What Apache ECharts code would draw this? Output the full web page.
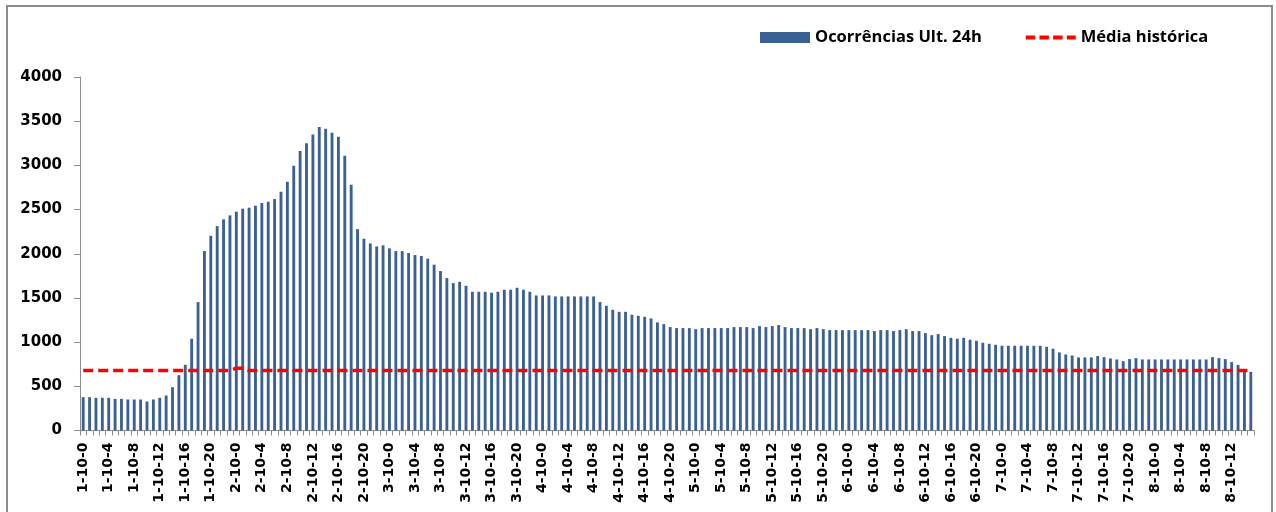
<!DOCTYPE html>
<html>
<head>
<meta charset="utf-8">
<script src="https://cdn.jsdelivr.net/npm/echarts@6/dist/echarts.min.js"></script>
<style>
html,body{margin:0;padding:0;background:#fff;}
#chart{width:1276px;height:512px;}
</style>
</head>
<body>
<div id="chart"></div>
<script>
// Category labels: day-month-hour, hourly from 1-10-0
const days = [1, 2, 3, 4, 5, 6, 7, 8];
const hours = [0,1,2,3,4,5,6,7,8,9,10,11,12,13,14,15,16,17,18,19,20,21,22,23];
const barCount = 184;
const categories = [];
days.forEach(d => hours.forEach(h => categories.push(d + '-10-' + h)));
categories.length = barCount;

const ocorrencias = [
  377, 377, 370, 370, 370, 358, 358, 351, 351, 351, 328, 351, 370, 396, 490, 626, 743, 1038, 1453, 2030, 2204, 2313, 2389, 2434,
  2476, 2510, 2521, 2544, 2574, 2589, 2619, 2702, 2815, 2997, 3163, 3250, 3348, 3434, 3415, 3370, 3325, 3110, 2781, 2279, 2170, 2117, 2083, 2095,
  2061, 2030, 2030, 2008, 1985, 1974, 1944, 1876, 1804, 1725, 1668, 1683, 1638, 1570, 1570, 1570, 1559, 1570, 1593, 1593, 1615, 1593, 1570, 1528,
  1528, 1528, 1517, 1517, 1517, 1517, 1517, 1517, 1517, 1453, 1411, 1366, 1343, 1343, 1310, 1298, 1287, 1268, 1223, 1204, 1170, 1159, 1159, 1159,
  1147, 1159, 1159, 1159, 1159, 1159, 1170, 1170, 1170, 1159, 1181, 1170, 1181, 1193, 1170, 1159, 1159, 1159, 1147, 1159, 1147, 1136, 1136, 1136,
  1136, 1136, 1136, 1136, 1125, 1136, 1136, 1125, 1136, 1147, 1125, 1125, 1102, 1079, 1091, 1068, 1049, 1038, 1049, 1027, 1015, 993, 981, 970,
  959, 959, 959, 959, 959, 959, 959, 947, 925, 883, 860, 849, 827, 827, 827, 842, 830, 815, 804, 785, 808, 819, 804, 804,
  804, 804, 804, 804, 804, 804, 804, 804, 804, 830, 819, 808, 774, 743, 687, 664
];

const mediaHistorica = [
  680, 680, 680, 680, 680, 680, 680, 680, 680, 680, 680, 680, 680, 680, 680, 680, 680, 680, 680, 680, 680, 680, 680, 680,
  705, 705, 680, 680, 680, 680, 680, 680, 680, 680, 680, 680, 680, 680, 680, 680, 680, 680, 680, 680, 680, 680, 680, 680,
  680, 680, 680, 680, 680, 680, 680, 680, 680, 680, 680, 680, 680, 680, 680, 680, 680, 680, 680, 680, 680, 680, 680, 680,
  680, 680, 680, 680, 680, 680, 680, 680, 680, 680, 680, 680, 680, 680, 680, 680, 680, 680, 680, 680, 680, 680, 680, 680,
  680, 680, 680, 680, 680, 680, 680, 680, 680, 680, 680, 680, 680, 680, 680, 680, 680, 680, 680, 680, 680, 680, 680, 680,
  680, 680, 680, 680, 680, 680, 680, 680, 680, 680, 680, 680, 680, 680, 680, 680, 680, 680, 680, 680, 680, 680, 680, 680,
  680, 680, 680, 680, 680, 680, 680, 680, 680, 680, 680, 680, 680, 680, 680, 680, 680, 680, 680, 680, 680, 680, 680, 680,
  680, 680, 680, 680, 680, 680, 680, 680, 680, 680, 680, 680, 680, 680, 680, 680
];

const yTicks = { min: 0, max: 4000, interval: 500 };

const chart = echarts.init(document.getElementById('chart'), null, { renderer: 'canvas' });
const axisGrey = '#8c8c8c';
// dashed legend icon: tiny corner marks fix the bounding box, four dashes in the middle
const dashIcon = 'path://M0,0L0.05,0L0.05,0.05ZM0,11L0.05,11L0.05,10.95Z' +
  'M0,3.5h10v4h-10zM14.5,3.5h10v4h-10zM29,3.5h10v4h-10zM43.5,3.5h9.5v4h-9.5z';
chart.setOption({
  animation: false,
  backgroundColor: '#ffffff',
  graphic: [{
    type: 'rect',
    shape: { x: 7, y: 6, width: 1265, height: 520 },
    style: { fill: 'none', stroke: '#8c8c8c', lineWidth: 2 },
    silent: true
  }],
  legend: {
    top: 24,
    left: 755,
    itemWidth: 50,
    itemHeight: 11,
    itemGap: 44,
    textStyle: { fontFamily: 'Open Sans', fontWeight: 'bold', fontSize: 16.5, color: '#000' },
    data: [
      { name: 'Ocorrências Ult. 24h', icon: 'rect' },
      { name: 'Média histórica', icon: dashIcon, itemStyle: { color: '#ff0000', borderWidth: 0 }, lineStyle: { width: 0 } }
    ]
  },
  grid: { left: 80, right: 22, top: 77, bottom: 81.5, containLabel: false },
  xAxis: {
    type: 'category',
    data: categories,
    boundaryGap: true,
    axisLine: { show: true, lineStyle: { color: axisGrey, width: 1 } },
    axisTick: { show: true, interval: 0, length: 5, lineStyle: { color: axisGrey } },
    axisLabel: {
      interval: 3,
      rotate: 90,
      margin: 12,
      fontFamily: 'DejaVu Sans',
      fontWeight: 'bold',
      fontSize: 14,
      color: '#000'
    },
    splitLine: { show: false }
  },
  yAxis: {
    type: 'value',
    min: yTicks.min,
    max: yTicks.max,
    interval: yTicks.interval,
    axisLine: { show: true, lineStyle: { color: axisGrey, width: 1 } },
    axisTick: { show: true, length: 6, lineStyle: { color: axisGrey } },
    axisLabel: {
      margin: 18,
      fontFamily: 'DejaVu Sans',
      fontWeight: 'bold',
      fontSize: 15,
      color: '#000',
      formatter: v => String(v)
    },
    splitLine: { show: false }
  },
  series: [
    {
      name: 'Ocorrências Ult. 24h',
      type: 'bar',
      data: ocorrencias,
      barWidth: '45%',
      itemStyle: { color: '#3b6194' }
    },
    {
      name: 'Média histórica',
      type: 'line',
      data: mediaHistorica,
      symbol: 'none',
      showSymbol: false,
      itemStyle: { color: '#ff0000' },
      lineStyle: { color: '#ff0000', width: 3.5, type: [10, 5] },
      z: 3
    }
  ]
});
</script>
</body>
</html>
